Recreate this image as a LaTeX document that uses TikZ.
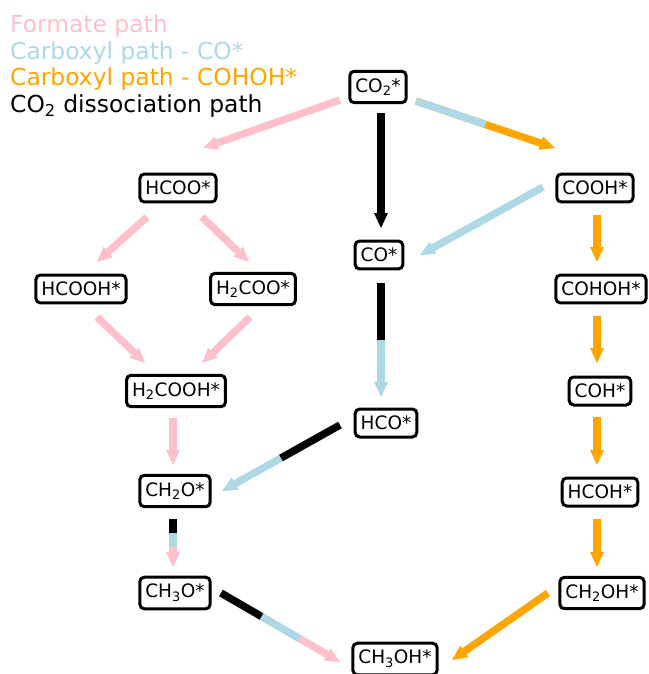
\documentclass[tikz,border=0pt]{standalone}
\usepackage{fontspec}
\setmainfont{DejaVu Sans}
\usepackage{xcolor}
\usepackage{tikz}
\usetikzlibrary{arrows.meta, calc}
\definecolor{formate}{HTML}{FFC0CB}
\definecolor{carbco}{HTML}{ADD8E6}
\definecolor{carbcohoh}{HTML}{FFA500}
\tikzstyle{species} = [rectangle, rounded corners=4.5pt, draw=black,
    line width=3pt, inner xsep=5.5pt, inner ysep=7pt,
    font=\fontsize{18.5}{22}\selectfont]
\tikzstyle{legend} = [anchor=base west, inner sep=0pt,
    font=\fontsize{23.4}{28}\selectfont]
\tikzstyle{bar} = [line width=7.4pt]
\tikzstyle{arrow} = [bar, -{Triangle[length=15pt, width=14pt, line width=0pt]}]
\tikzstyle{pinkarrow}   = [arrow, formate]
\tikzstyle{bluearrow}   = [arrow, carbco]
\tikzstyle{orangearrow} = [arrow, carbcohoh]
\tikzstyle{blackarrow}  = [arrow, black]
\tikzstyle{bluebar}  = [bar, carbco]
\tikzstyle{blackbar} = [bar, black]

\begin{document}
\begin{tikzpicture}[x=1pt, y=-1pt]
  \useasboundingbox (0,0) rectangle (648,674);
  % legend
  \node[legend, text=formate]   (lg1) at (10,33)  {Formate path};
  \node[legend, text=carbco]    (lg2) at (10,60)  {Carboxyl path - CO*};
  \node[legend, text=carbcohoh] (lg3) at (10,86)  {Carboxyl path - COHOH*};
  \node[legend]                 (lg4) at (10,113) {CO\textsubscript{2} dissociation path};

  % intermediates
  \node[species] (co2)    at (378,87)  {CO\textsubscript{2}*};
  \node[species] (hcoo)   at (178,188) {HCOO*};
  \node[species] (cooh)   at (595,188) {COOH*};
  \node[species] (co)     at (379,255) {CO*};
  \node[species] (hcooh)  at (81,289)  {HCOOH*};
  \node[species] (h2coo)  at (253,289) {H\textsubscript{2}COO*};
  \node[species] (cohoh)  at (601,289) {COHOH*};
  \node[species] (h2cooh) at (176,391) {H\textsubscript{2}COOH*};
  \node[species] (coh)    at (600,391) {COH*};
  \node[species] (hco)    at (386,423) {HCO*};
  \node[species] (ch2o)   at (175,491) {CH\textsubscript{2}O*};
  \node[species] (hcoh)   at (600,492) {HCOH*};
  \node[species] (ch3o)   at (175,593) {CH\textsubscript{3}O*};
  \node[species] (ch2oh)  at (602,593) {CH\textsubscript{2}OH*};
  \node[species] (ch3oh)  at (395,659) {CH\textsubscript{3}OH*};

  % formate path
  \draw[pinkarrow] ([shift={(-38,13)}]co2.center) -- ([shift={(25,-40)}]hcoo.center);
  \draw[pinkarrow] ([shift={(-31,29)}]hcoo.center) -- ([shift={(16,-27)}]hcooh.center);
  \draw[pinkarrow] ([shift={(24,29)}]hcoo.center) -- ([shift={(-4,-27)}]h2coo.center);
  \draw[pinkarrow] ([shift={(16,28)}]hcooh.center) -- ([shift={(-31,-28)}]h2cooh.center);
  \draw[pinkarrow] ([shift={(-3,28)}]h2coo.center) -- ([shift={(26,-28)}]h2cooh.center);
  \draw[pinkarrow] ([shift={(-3,27)}]h2cooh.center) -- ([shift={(-2,-26)}]ch2o.center);

  % carboxyl paths
  \draw[orangearrow] ([shift={(38,14)}]co2.center) coordinate (s1)
    -- ([shift={(-40,-40)}]cooh.center) coordinate (e1);
  \draw[bluebar] (s1) -- ($(s1)!.5!(e1)$);
  \draw[bluearrow] ([shift={(-52,-1)}]cooh.center) -- ([shift={(41,0)}]co.center);
  \draw[orangearrow] ([shift={(2,27)}]cooh.center) -- ([shift={(-4,-27)}]cohoh.center);
  \draw[orangearrow] ([shift={(-4,27)}]cohoh.center) -- ([shift={(-3,-28)}]coh.center);
  \draw[orangearrow] ([shift={(-3,26)}]coh.center) -- ([shift={(-3,-27)}]hcoh.center);
  \draw[orangearrow] ([shift={(-3,27)}]hcoh.center) -- ([shift={(-5,-26)}]ch2oh.center);
  \draw[orangearrow] ([shift={(-54,0)}]ch2oh.center) -- ([shift={(57,1)}]ch3oh.center);

  % co2 dissociation path
  \draw[blackarrow] ([shift={(3,26)}]co2.center) -- ([shift={(2,-27)}]co.center);
  \draw[bluearrow] ([shift={(2,28)}]co.center) coordinate (s2)
    -- ([shift={(-5,-26)}]hco.center) coordinate (e2);
  \draw[blackbar] (s2) -- ($(s2)!.5!(e2)$);
  \draw[bluearrow] ([shift={(-46,2)}]hco.center) coordinate (s3)
    -- ([shift={(47,0)}]ch2o.center) coordinate (e3);
  \draw[blackbar] (s3) -- ($(s3)!.5!(e3)$);

  % shared steps
  \draw[pinkarrow] ([shift={(-2,28)}]ch2o.center) coordinate (s4)
    -- ([shift={(-2,-26)}]ch3o.center) coordinate (e4);
  \draw[bluebar] (s4) -- ($(s4)!.58!(e4)$);
  \draw[blackbar] (s4) -- ($(s4)!.29!(e4)$);
  \draw[pinkarrow] ([shift={(46,0)}]ch3o.center) coordinate (s5)
    -- ([shift={(-55,3)}]ch3oh.center) coordinate (e5);
  \draw[bluebar] (s5) -- ($(s5)!.66!(e5)$);
  \draw[blackbar] (s5) -- ($(s5)!.34!(e5)$);
\end{tikzpicture}
\end{document}
